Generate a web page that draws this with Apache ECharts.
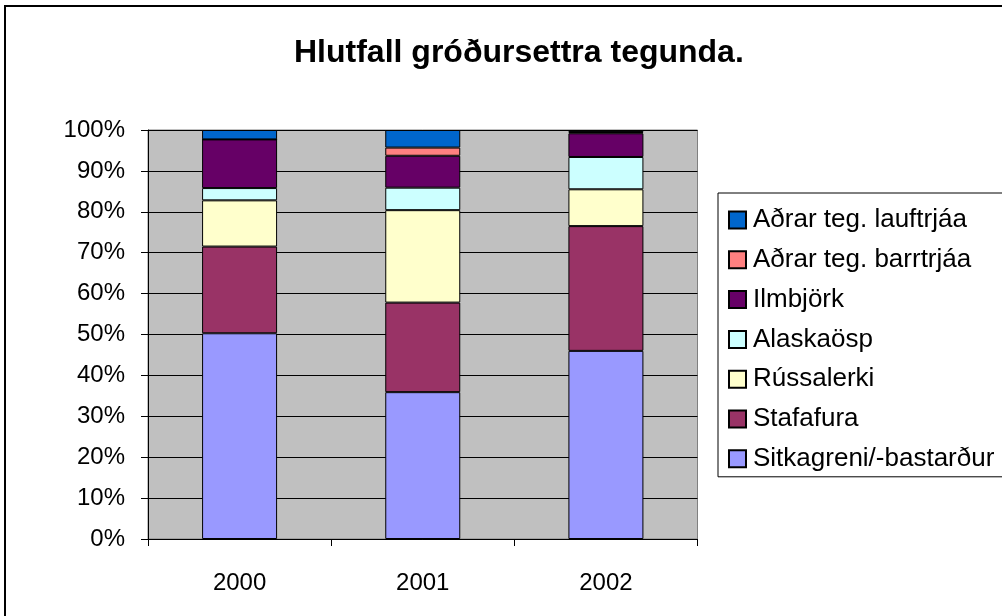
<!DOCTYPE html>
<html>
<head>
<meta charset="utf-8">
<script src="https://cdn.jsdelivr.net/npm/echarts@6/dist/echarts.min.js"></script>
<style>
  html, body { margin: 0; padding: 0; background: #fff; }
  #chart { width: 1002px; height: 616px; }
</style>
</head>
<body>
<div id="chart"></div>
<script>
const years = ["2000", "2001", "2002"];
const yTicks = [0, 10, 20, 30, 40, 50, 60, 70, 80, 90, 100];

// percent shares, bottom of stack first
const sitkagreni = [50.3, 35.9, 46.0];
const stafafura = [21.2, 21.9, 30.5];
const russalerki = [11.3, 22.6, 9.0];
const alaskaosp = [3.0, 5.5, 7.9];
const ilmbjork = [11.9, 7.8, 5.8];
const barrtrjaa = [0, 2.0, 0.3];
const lauftrjaa = [2.3, 4.3, 0.5];

const seriesDefs = [
  { name: "Sitkagreni/-bastarður", data: sitkagreni, color: "#9999ff" },
  { name: "Stafafura", data: stafafura, color: "#993366" },
  { name: "Rússalerki", data: russalerki, color: "#ffffcc" },
  { name: "Alaskaösp", data: alaskaosp, color: "#ccffff" },
  { name: "Ilmbjörk", data: ilmbjork, color: "#660066" },
  { name: "Aðrar teg. barrtrjáa", data: barrtrjaa, color: "#ff8080" },
  { name: "Aðrar teg. lauftrjáa", data: lauftrjaa, color: "#0066cc" },
];

const font = "Liberation Sans, Arial, sans-serif";

const chart = echarts.init(document.getElementById("chart"));

chart.setOption({
  animation: false,
  backgroundColor: "#fff",
  textStyle: { fontFamily: font, color: "#000" },
  title: {
    text: "Hlutfall gróðursettra tegunda.",
    left: 289,
    top: 32,
    textStyle: { fontFamily: font, fontSize: 32, fontWeight: "bold", color: "#000" },
  },
  graphic: [
    {
      type: "rect",
      shape: { x: 5, y: 6, width: 1010, height: 620 },
      style: { fill: "none", stroke: "#000", lineWidth: 2 },
      silent: true,
    },
  ],
  legend: {
    orient: "vertical",
    left: 718,
    top: 193,
    padding: [14, 10, 5, 10],
    backgroundColor: "#fff",
    borderColor: "#000",
    borderWidth: 1,
    borderRadius: 0,
    itemWidth: 17,
    itemHeight: 17,
    itemGap: 13.8,
    icon: "rect",
    textStyle: { fontFamily: font, fontSize: 26, lineHeight: 25, color: "#000", padding: [0, 0, 0, 2] },
    data: seriesDefs.map(s => s.name).reverse(),
  },
  grid: {
    left: 148,
    right: 304.5,
    top: 130,
    bottom: 77,
    show: true,
    backgroundColor: "#c0c0c0",
    borderColor: "#808080",
    borderWidth: 1,
  },
  xAxis: {
    type: "category",
    data: years,
    axisLine: { lineStyle: { color: "#000", width: 1 } },
    axisTick: { show: true, length: 7, lineStyle: { color: "#000" } },
    axisLabel: { fontFamily: font, fontSize: 24, color: "#000", margin: 32 },
  },
  yAxis: {
    type: "value",
    min: yTicks[0],
    max: yTicks[yTicks.length - 1],
    interval: 10,
    axisLine: { show: true, lineStyle: { color: "#000", width: 1 } },
    axisTick: { show: true, length: 7, lineStyle: { color: "#000" } },
    axisLabel: { fontFamily: font, fontSize: 24, color: "#000", margin: 23, formatter: "{value}%" },
    splitLine: { show: true, lineStyle: { color: "#000", width: 1 } },
  },
  series: seriesDefs.map(s => ({
    name: s.name,
    type: "bar",
    stack: "total",
    barWidth: 75,
    data: s.data,
    itemStyle: { color: s.color, borderColor: "#000", borderWidth: 1 },
  })),
});
</script>
</body>
</html>
